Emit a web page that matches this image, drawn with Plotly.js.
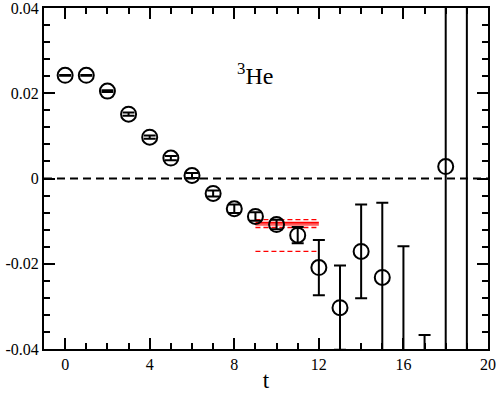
<!DOCTYPE html>
<html>
<head>
<meta charset="utf-8">
<script src="https://cdn.plot.ly/plotly-3.0.1.min.js"></script>
<style>
html,body{margin:0;padding:0;background:#fff;}
#chart{width:498px;height:393px;}
#chart .xtick text, #chart .ytick text {font-family: "Liberation Serif", serif !important;}
</style>
</head>
<body>
<div id="chart"></div>
<script>
// Data
const tValues = [0, 1, 2, 3, 4, 5, 6, 7, 8, 9, 10, 11, 12, 13, 14, 15, 16, 17, 18, 19];
const yValues = [0.0242, 0.0242, 0.0205, 0.0151, 0.0097, 0.0048, 0.0007, -0.0035, -0.0071, -0.0089, -0.0108, -0.0133, -0.0209, -0.0303, -0.0171, -0.0232, -0.0500, -0.0550, 0.0028, 0.0900];
const yErrors = [0.0001, 0.0001, 0.0002, 0.0004, 0.0004, 0.0005, 0.0006, 0.0007, 0.0010, 0.0010, 0.0011, 0.0019, 0.0065, 0.0099, 0.0110, 0.0175, 0.0341, 0.0183, 0.1000, 0.2000];

const fitRange = [9, 12];
const fitSolid = [-0.0103, -0.0106, -0.0109];
const fitDashed = [-0.00965, -0.0115, -0.0171];

const xTickVals = [0, 4, 8, 12, 16, 20];
const xTickText = ["0", "4", "8", "12", "16", "20"];
const yTickVals = [-0.04, -0.02, 0, 0.02, 0.04];
const yTickText = ["-0.04", "-0.02", "0", "0.02", "0.04"];

const traces = [];
// zero reference line
traces.push({
  x: [-1, 20], y: [0, 0], mode: 'lines', hoverinfo: 'skip', showlegend: false,
  line: {color: '#000', width: 2, dash: '8px,5px'}
});
fitDashed.forEach(v => traces.push({
  x: fitRange, y: [v, v], mode: 'lines', showlegend: false,
  line: {color: '#ff0000', width: 1.3, dash: '5px,3px'}
}));
fitSolid.forEach(v => traces.push({
  x: fitRange, y: [v, v], mode: 'lines', showlegend: false,
  line: {color: '#ff0000', width: 1.1}
}));
traces.push({
  x: tValues, y: yValues, mode: 'markers', showlegend: false, cliponaxis: true,
  marker: {symbol: 'circle-open', size: 15, color: '#000', line: {color: '#000', width: 2}},
  error_y: {type: 'data', array: yErrors, visible: true, color: '#000', thickness: 2, width: 6}
});

const serif = '"Liberation Serif", serif';
const layout = {
  width: 498, height: 393,
  margin: {l: 44, r: 10, t: 8, b: 44},
  paper_bgcolor: '#fff', plot_bgcolor: '#fff',
  showlegend: false,
  font: {family: serif, color: '#000'},
  xaxis: {
    range: [-1, 20], showgrid: false, zeroline: false,
    showline: true, linecolor: '#000', linewidth: 2, mirror: 'allticks',
    ticks: 'inside', ticklen: 11, tickwidth: 2, tickcolor: '#000',
    tickmode: 'array', tickvals: xTickVals, ticktext: xTickText,
    tickfont: {family: serif, size: 16, color: '#000'},
    ticklabeloverflow: 'allow',
    minor: {tickmode: 'linear', tick0: 0, dtick: 1, ticks: 'inside', ticklen: 6, tickwidth: 2, tickcolor: '#000', showgrid: false},
    title: {text: 't', font: {family: serif, size: 23, color: '#000'}, standoff: 3}
  },
  yaxis: {
    range: [-0.04, 0.04], showgrid: false, zeroline: false,
    showline: true, linecolor: '#000', linewidth: 2, mirror: 'allticks',
    ticks: 'inside', ticklen: 11, tickwidth: 2, tickcolor: '#000',
    tickmode: 'array', tickvals: yTickVals, ticktext: yTickText,
    tickfont: {family: serif, size: 16, color: '#000'},
    ticklabeloverflow: 'allow',
    minor: {tickmode: 'linear', tick0: 0, dtick: 0.004, ticks: 'inside', ticklen: 6, tickwidth: 2, tickcolor: '#000', showgrid: false}
  },
  annotations: [{
    x: 9, y: 0.0245, xref: 'x', yref: 'y', showarrow: false,
    text: '<sup>3</sup>He', font: {family: serif, size: 24, color: '#000'}
  }]
};
Plotly.newPlot('chart', traces, layout, {displayModeBar: false, staticPlot: true});
</script>
</body>
</html>
